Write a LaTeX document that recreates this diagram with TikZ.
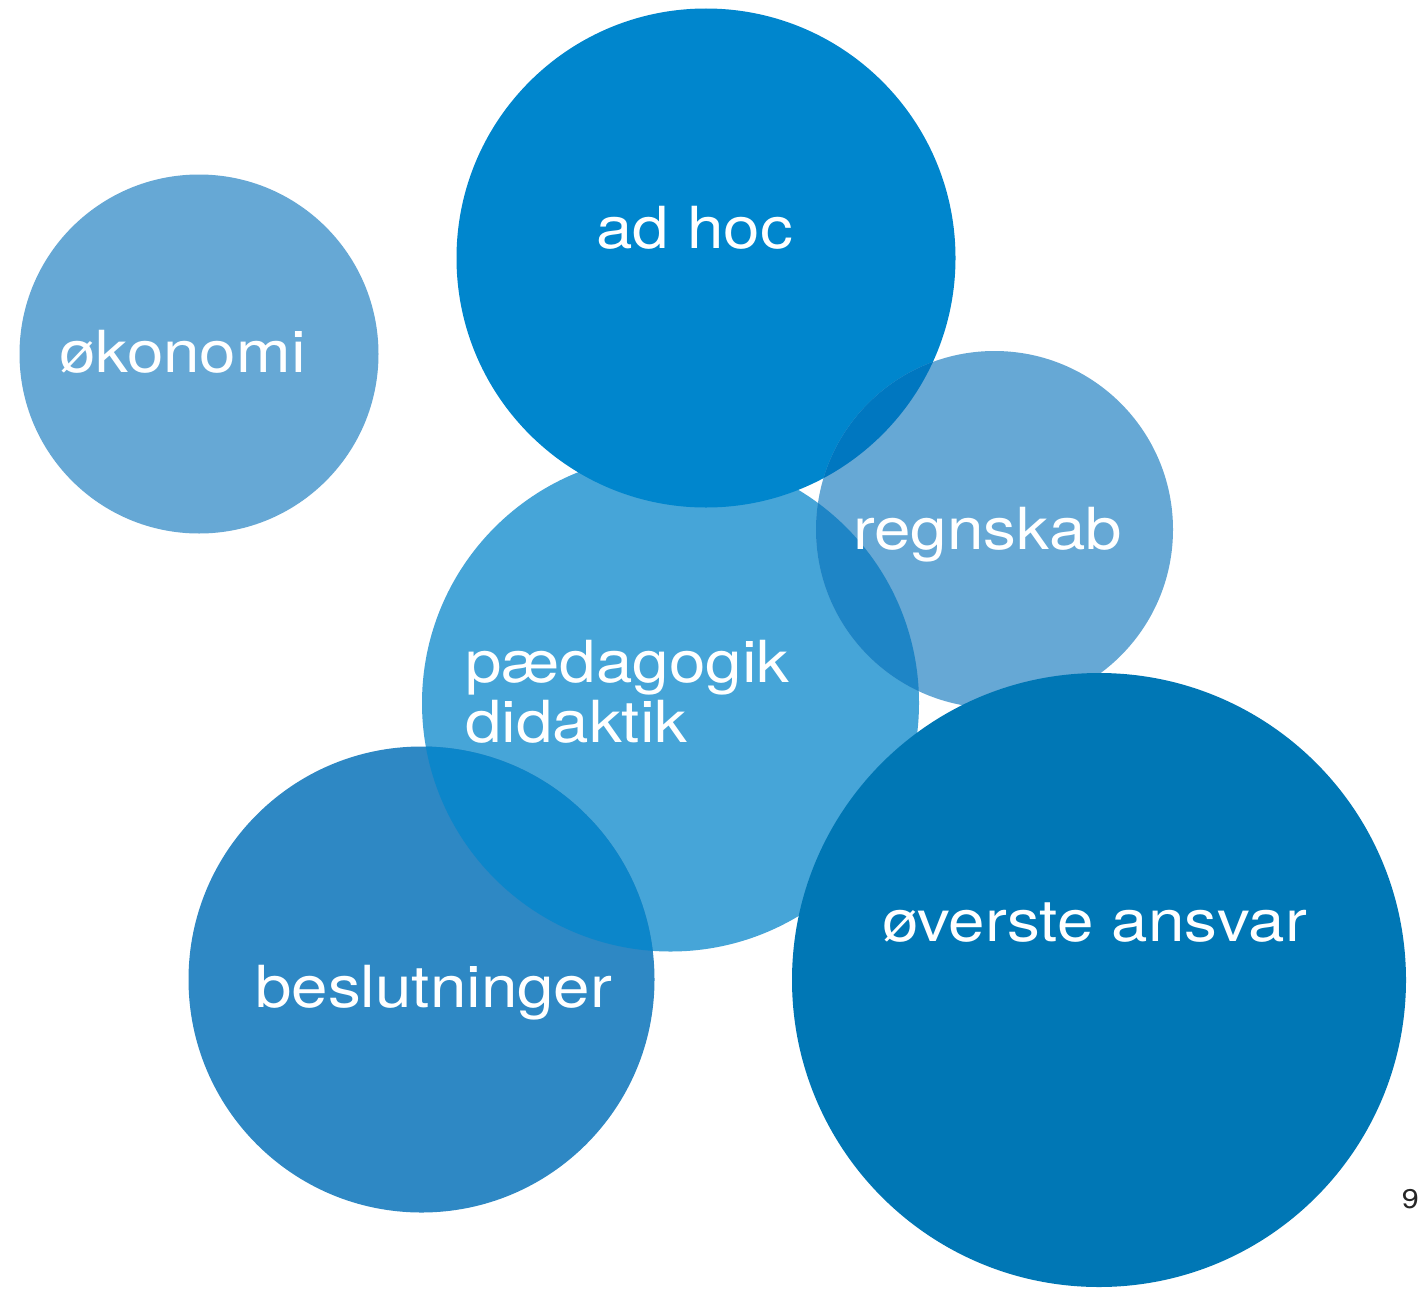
\documentclass[tikz,border=0pt]{standalone}
\usepackage{fontspec}
\setmainfont{TeX Gyre Heros}[FakeStretch=1.13]
\definecolor{cEko}{HTML}{66A8D5}
\definecolor{cAdhoc}{HTML}{0086CD}
\definecolor{cPaed}{HTML}{46A5D8}
\definecolor{cBesl}{HTML}{2E88C4}
\definecolor{cOver}{HTML}{0077B5}
\definecolor{cAR}{HTML}{0077C0}
\definecolor{cPR}{HTML}{1E85C6}
\definecolor{cPB}{HTML}{0C86CA}
\begin{document}
\begin{tikzpicture}[x=1pt,y=-1pt,
  bubble/.style={circle,inner sep=0pt,outer sep=0pt,draw=none},
  lbl/.style={text=white,inner sep=0pt,anchor=base west,font=\fontsize{58}{59}\selectfont},
  pagenum/.style={text=black!85,inner sep=0pt,anchor=base east,font=\fontsize{27}{28}\selectfont}]
\fill[white] (0,0) rectangle (1421,1290);
\useasboundingbox (0,0) rectangle (1421,1290);
% circles
\node[bubble,fill=cEko,minimum size=359pt] (eko) at (199,354) {};
\node[bubble,fill=cPaed,minimum size=497pt] (paed) at (670.5,703) {};
\node[bubble,fill=cAdhoc,minimum size=499pt] (adhoc) at (706,258) {};
\node[bubble,fill=cEko,minimum size=357pt] (regn) at (994.5,529.5) {};
\begin{scope}
  \clip (paed.center) circle (248.5pt);
  \fill[cPR] (regn.center) circle (178.5pt);
\end{scope}
\begin{scope}
  \clip (adhoc.center) circle (249.5pt);
  \fill[cAR] (regn.center) circle (178.5pt);
\end{scope}
\node[bubble,fill=cBesl,minimum size=466pt] (besl) at (421.5,979.5) {};
\begin{scope}
  \clip (paed.center) circle (248.5pt);
  \fill[cPB] (besl.center) circle (233pt);
\end{scope}
\node[bubble,fill=cOver,minimum size=614pt] (over) at (1099,980) {};
% labels
\node[lbl] (tEko) at (59,372) {økonomi};
\node[lbl] (tAdhoc) at (596,248) {ad hoc};
\node[lbl] (tRegn) at (853,549) {regnskab};
\node[lbl] (tPaed) at (465,682) {pædagogik};
\node[lbl] (tDid) at (465,742) {didaktik};
\node[lbl] (tBesl) at (255,1007) {beslutninger};
\node[lbl] (tOver) at (882,941) {øverste ansvar};
\node[pagenum] (pg) at (1419,1208) {9};
\end{tikzpicture}
\end{document}
